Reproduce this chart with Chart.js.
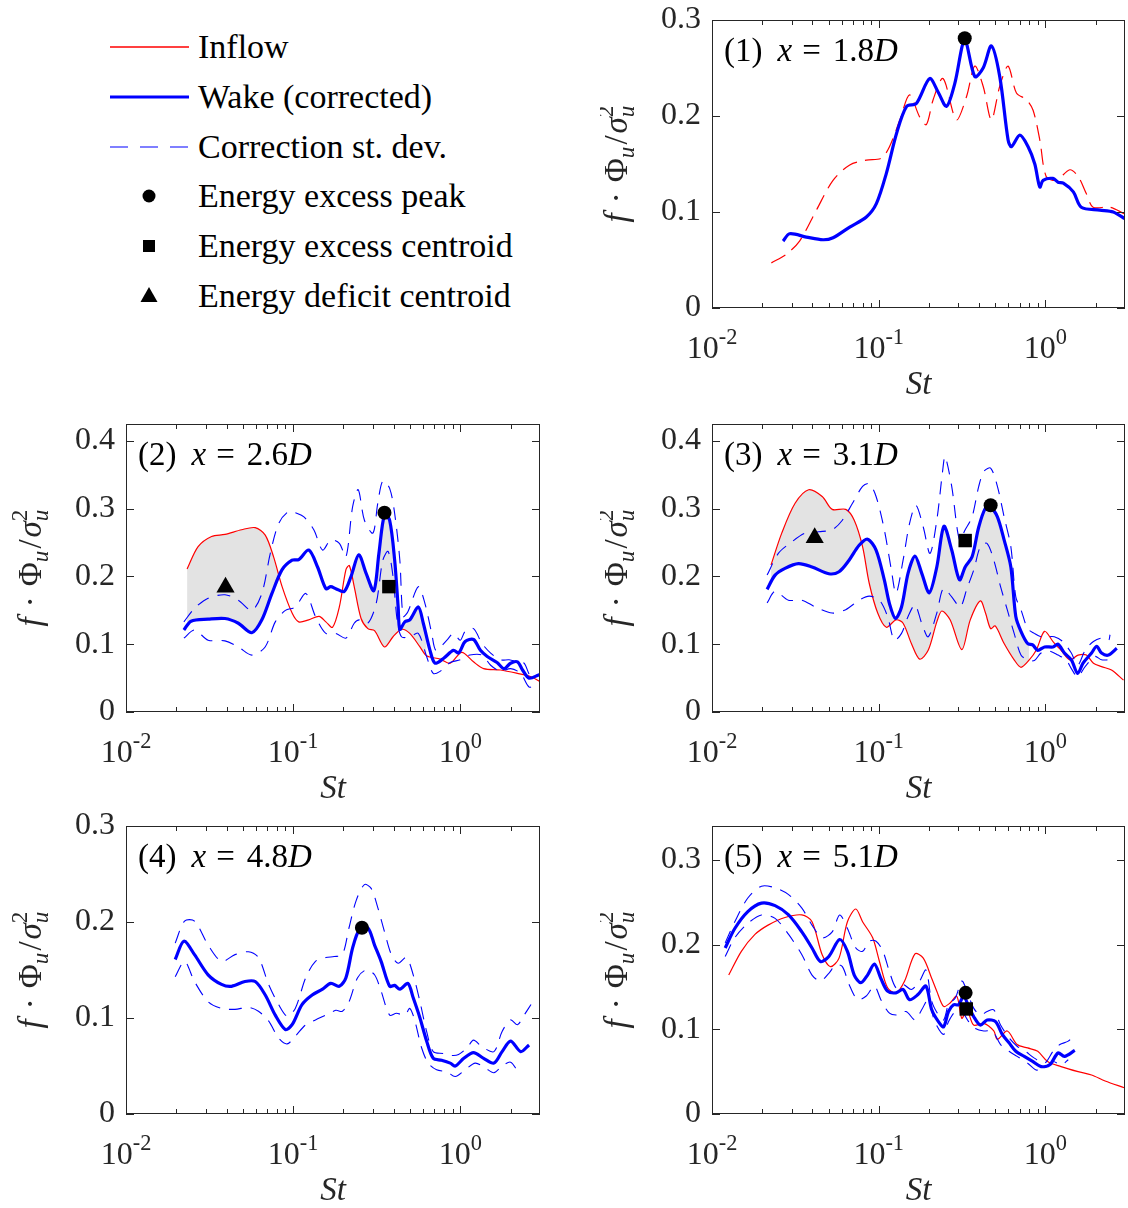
<!DOCTYPE html>
<html lang="en">
<head>
<meta charset="UTF-8">
<title>Wake spectra</title>
<script src="https://cdn.jsdelivr.net/npm/chart.js"></script>
<style>
  body { margin: 0; background: #fff; }
  #fig { position: relative; width: 1128px; height: 1208px; overflow: hidden; }
  #fig canvas { position: absolute; }
  .leg { position: absolute; left: 198px; font: 34px/34px 'Liberation Serif', serif; color: #000; white-space: nowrap; }
</style>
</head>
<body>
<div id="fig">
  <svg width="200" height="320" style="position:absolute;left:0;top:0">
    <line x1="110" y1="47" x2="189" y2="47" stroke="#ff0000" stroke-width="1.3"/>
    <line x1="110" y1="97" x2="189" y2="97" stroke="#0000ff" stroke-width="3.2"/>
    <line x1="110" y1="147" x2="189" y2="147" stroke="#0000ff" stroke-width="1.2" stroke-dasharray="18 12"/>
    <circle cx="149" cy="196" r="6.5" fill="#000"/>
    <rect x="143" y="240" width="12" height="12" fill="#000"/>
    <polygon points="149,287 157.5,302 140.5,302" fill="#000"/>
  </svg>
  <div class="leg" style="top:30px">Inflow</div>
  <div class="leg" style="top:80px">Wake (corrected)</div>
  <div class="leg" style="top:130px">Correction st. dev.</div>
  <div class="leg" style="top:179px">Energy excess peak</div>
  <div class="leg" style="top:229px">Energy excess centroid</div>
  <div class="leg" style="top:279px">Energy deficit centroid</div>

  <canvas id="c1" width="528" height="400" style="left:600px;top:0px"></canvas>
  <canvas id="c2" width="560" height="400" style="left:0px;top:404px"></canvas>
  <canvas id="c3" width="528" height="400" style="left:600px;top:404px"></canvas>
  <canvas id="c4" width="560" height="400" style="left:0px;top:806px"></canvas>
  <canvas id="c5" width="528" height="400" style="left:600px;top:806px"></canvas>
</div>

<script>
// tick values
const stTicks = [0.01, 0.1, 1];
const yTicks3 = [0, 0.1, 0.2, 0.3];
const yTicks4 = [0, 0.1, 0.2, 0.3, 0.4];

// (1) x = 1.8D
const p1Inflow = [[0.0227,0.047],[0.0279,0.056],[0.0336,0.070],[0.0423,0.102],[0.0532,0.133],[0.067,0.149],[0.0843,0.154],[0.1037,0.156],[0.116,0.168],[0.134,0.196],[0.153,0.222],[0.176,0.199],[0.193,0.191],[0.212,0.217],[0.243,0.239],[0.292,0.196],[0.336,0.220],[0.377,0.252],[0.423,0.231],[0.474,0.196],[0.532,0.231],[0.597,0.252],[0.670,0.224],[0.769,0.217],[0.843,0.206],[0.925,0.175],[1.01,0.137],[1.16,0.133],[1.40,0.144],[1.57,0.137],[1.76,0.119],[1.93,0.105],[2.43,0.105],[2.99,0.098]];
const p1Wake = [[0.0267,0.0697],[0.0292,0.0773],[0.0368,0.0739],[0.0463,0.0711],[0.0532,0.0732],[0.067,0.0843],[0.0843,0.0948],[0.0968,0.1087],[0.111,0.140],[0.128,0.182],[0.147,0.210],[0.168,0.213],[0.202,0.239],[0.227,0.225],[0.255,0.210],[0.286,0.234],[0.328,0.279],[0.377,0.241],[0.423,0.250],[0.474,0.273],[0.532,0.241],[0.597,0.175],[0.625,0.168],[0.702,0.180],[0.787,0.168],[0.863,0.150],[0.925,0.126],[0.968,0.133],[1.11,0.135],[1.19,0.131],[1.28,0.130],[1.47,0.121],[1.64,0.105],[2.12,0.102],[2.55,0.100],[2.99,0.093]];
const p1Peak = [[0.328,0.281]];

// (2) x = 2.6D
const p2Inflow = [[0.0232,0.211],[0.027,0.244],[0.0325,0.259],[0.0391,0.262],[0.0492,0.269],[0.0593,0.272],[0.0681,0.261],[0.0764,0.229],[0.0859,0.185],[0.0986,0.146],[0.108,0.133],[0.124,0.136],[0.143,0.141],[0.157,0.133],[0.172,0.125],[0.189,0.155],[0.207,0.210],[0.217,0.216],[0.232,0.185],[0.255,0.138],[0.280,0.123],[0.307,0.120],[0.352,0.096],[0.396,0.111],[0.445,0.122],[0.499,0.116],[0.574,0.096],[0.629,0.083],[0.757,0.078],[0.871,0.072],[1.02,0.088],[1.20,0.074],[1.38,0.064],[1.74,0.062],[2.20,0.057],[2.65,0.052],[3.0,0.045]];
const p2Wake = [[0.0222,0.121],[0.0245,0.134],[0.031,0.137],[0.0391,0.138],[0.047,0.131],[0.0566,0.117],[0.065,0.136],[0.0747,0.175],[0.0859,0.210],[0.0986,0.224],[0.108,0.225],[0.124,0.239],[0.140,0.214],[0.157,0.182],[0.168,0.185],[0.180,0.182],[0.202,0.178],[0.222,0.200],[0.247,0.232],[0.273,0.205],[0.304,0.179],[0.326,0.234],[0.352,0.291],[0.378,0.283],[0.405,0.224],[0.425,0.155],[0.435,0.122],[0.466,0.133],[0.499,0.136],[0.561,0.155],[0.601,0.131],[0.659,0.091],[0.706,0.072],[0.793,0.079],[0.911,0.091],[0.977,0.087],[1.07,0.104],[1.20,0.107],[1.32,0.091],[1.45,0.082],[1.66,0.073],[1.83,0.064],[2.00,0.072],[2.20,0.074],[2.36,0.062],[2.58,0.050],[2.97,0.055]];
const p2Upper = [[0.0222,0.133],[0.0257,0.153],[0.031,0.168],[0.0391,0.173],[0.047,0.165],[0.0566,0.150],[0.065,0.175],[0.073,0.234],[0.0819,0.278],[0.0942,0.296],[0.106,0.293],[0.116,0.288],[0.133,0.269],[0.150,0.239],[0.168,0.254],[0.189,0.249],[0.207,0.229],[0.227,0.303],[0.245,0.328],[0.267,0.283],[0.300,0.264],[0.321,0.308],[0.344,0.341],[0.378,0.330],[0.405,0.293],[0.435,0.224],[0.455,0.141],[0.486,0.148],[0.561,0.185],[0.615,0.160],[0.675,0.116],[0.716,0.091],[0.832,0.106],[0.911,0.116],[1.0,0.106],[1.07,0.119],[1.20,0.123],[1.35,0.101],[1.52,0.087],[1.74,0.077],[1.96,0.077],[2.20,0.074],[2.41,0.072],[2.65,0.052],[2.97,0.056]];
const p2Lower = [[0.0222,0.109],[0.0257,0.121],[0.031,0.106],[0.0391,0.105],[0.047,0.096],[0.0566,0.084],[0.068,0.096],[0.0782,0.133],[0.0899,0.150],[0.103,0.155],[0.119,0.175],[0.136,0.141],[0.157,0.116],[0.180,0.116],[0.207,0.109],[0.232,0.131],[0.249,0.136],[0.280,0.131],[0.314,0.160],[0.344,0.224],[0.370,0.237],[0.396,0.200],[0.419,0.136],[0.445,0.111],[0.499,0.111],[0.561,0.116],[0.629,0.082],[0.689,0.057],[0.757,0.060],[0.871,0.073],[1.0,0.077],[1.14,0.084],[1.35,0.084],[1.52,0.069],[1.74,0.060],[2.00,0.064],[2.30,0.057],[2.58,0.037],[2.89,0.040]];
const p2Peak = [[0.352,0.294]];
const p2Centroid = [[0.374,0.185]];
const p2Deficit = [[0.0394,0.184]];
const p2Bands = [[0.0232, 0.095, 'above'], [0.2, 0.75, 'below']];

// (3) x = 3.1D
const p3Inflow = [[0.0226,0.217],[0.0262,0.264],[0.0315,0.308],[0.038,0.328],[0.0458,0.318],[0.0526,0.299],[0.0634,0.299],[0.0713,0.283],[0.080,0.244],[0.0877,0.190],[0.0986,0.146],[0.111,0.125],[0.127,0.136],[0.140,0.131],[0.157,0.101],[0.176,0.078],[0.198,0.091],[0.223,0.133],[0.239,0.149],[0.268,0.136],[0.315,0.092],[0.354,0.136],[0.407,0.164],[0.437,0.146],[0.469,0.123],[0.500,0.127],[0.565,0.101],[0.649,0.077],[0.713,0.066],[0.80,0.077],[0.88,0.091],[0.987,0.119],[1.11,0.104],[1.24,0.091],[1.40,0.077],[1.57,0.084],[1.76,0.084],[1.94,0.072],[2.17,0.067],[2.49,0.062],[2.94,0.047]];
const p3Wake = [[0.0214,0.181],[0.0239,0.202],[0.0274,0.212],[0.033,0.219],[0.0398,0.214],[0.0502,0.204],[0.0578,0.207],[0.0664,0.224],[0.0763,0.246],[0.0857,0.255],[0.0964,0.239],[0.108,0.195],[0.116,0.160],[0.126,0.138],[0.137,0.155],[0.150,0.205],[0.165,0.230],[0.181,0.205],[0.201,0.176],[0.223,0.214],[0.246,0.274],[0.274,0.239],[0.305,0.195],[0.330,0.214],[0.363,0.229],[0.398,0.273],[0.437,0.301],[0.469,0.302],[0.515,0.288],[0.565,0.254],[0.620,0.214],[0.664,0.141],[0.713,0.119],[0.782,0.101],[0.838,0.099],[0.899,0.091],[0.987,0.096],[1.11,0.096],[1.19,0.100],[1.30,0.087],[1.43,0.077],[1.56,0.057],[1.68,0.072],[1.89,0.087],[2.03,0.097],[2.17,0.087],[2.39,0.084],[2.68,0.094]];
const p3Upper = [[0.0214,0.202],[0.025,0.234],[0.0301,0.251],[0.0363,0.264],[0.0437,0.266],[0.0526,0.269],[0.0605,0.283],[0.0696,0.308],[0.080,0.333],[0.0877,0.337],[0.0964,0.318],[0.108,0.269],[0.119,0.210],[0.127,0.175],[0.140,0.224],[0.153,0.278],[0.167,0.305],[0.185,0.273],[0.203,0.234],[0.223,0.283],[0.242,0.357],[0.250,0.377],[0.274,0.333],[0.305,0.254],[0.330,0.269],[0.363,0.288],[0.398,0.333],[0.427,0.355],[0.469,0.360],[0.515,0.333],[0.565,0.288],[0.620,0.244],[0.664,0.170],[0.713,0.151],[0.782,0.123],[0.858,0.116],[0.94,0.111],[1.03,0.111],[1.13,0.111],[1.27,0.104],[1.43,0.087],[1.56,0.069],[1.73,0.091],[1.94,0.104],[2.17,0.109],[2.39,0.106],[2.44,0.114]];
const p3Lower = [[0.0214,0.161],[0.0239,0.178],[0.0287,0.165],[0.0346,0.165],[0.0417,0.155],[0.0526,0.146],[0.0634,0.151],[0.0763,0.165],[0.0877,0.171],[0.101,0.165],[0.113,0.141],[0.124,0.106],[0.137,0.116],[0.150,0.141],[0.165,0.158],[0.181,0.131],[0.198,0.111],[0.223,0.146],[0.244,0.182],[0.274,0.170],[0.308,0.155],[0.338,0.182],[0.372,0.210],[0.407,0.244],[0.446,0.249],[0.490,0.224],[0.538,0.185],[0.590,0.151],[0.649,0.116],[0.713,0.084],[0.782,0.077],[0.858,0.076],[0.94,0.087],[1.05,0.090],[1.19,0.084],[1.33,0.077],[1.43,0.064],[1.56,0.052],[1.73,0.067],[1.98,0.082],[2.17,0.077],[2.39,0.077]];
const p3Peak = [[0.469,0.305]];
const p3Centroid = [[0.330,0.253]];
const p3Deficit = [[0.0413,0.257]];
const p3Bands = [[0.0226, 0.80, 'both']];

// (4) x = 4.8D
const p4Wake = [[0.0197,0.161],[0.0222,0.180],[0.0257,0.166],[0.031,0.145],[0.0373,0.135],[0.0428,0.133],[0.0515,0.138],[0.0593,0.138],[0.0681,0.124],[0.0782,0.103],[0.0899,0.088],[0.0986,0.093],[0.113,0.114],[0.130,0.124],[0.150,0.130],[0.168,0.136],[0.189,0.133],[0.207,0.142],[0.227,0.173],[0.249,0.192],[0.280,0.194],[0.307,0.176],[0.336,0.159],[0.378,0.133],[0.405,0.134],[0.435,0.130],[0.486,0.136],[0.523,0.121],[0.574,0.100],[0.629,0.076],[0.689,0.058],[0.773,0.056],[0.871,0.053],[0.933,0.050],[1.05,0.058],[1.20,0.064],[1.38,0.058],[1.59,0.053],[1.78,0.065],[2.00,0.076],[2.30,0.065],[2.58,0.072]];
const p4Upper = [[0.0197,0.178],[0.0224,0.201],[0.0257,0.201],[0.031,0.176],[0.0373,0.159],[0.0449,0.166],[0.054,0.169],[0.062,0.163],[0.0713,0.135],[0.0819,0.114],[0.092,0.102],[0.103,0.110],[0.119,0.142],[0.136,0.159],[0.157,0.163],[0.176,0.164],[0.197,0.166],[0.216,0.194],[0.238,0.222],[0.267,0.239],[0.293,0.235],[0.321,0.215],[0.352,0.190],[0.387,0.166],[0.425,0.157],[0.476,0.163],[0.523,0.145],[0.574,0.117],[0.629,0.086],[0.689,0.065],[0.793,0.063],[0.892,0.061],[0.977,0.062],[1.10,0.069],[1.20,0.077],[1.35,0.070],[1.59,0.065],[1.78,0.086],[2.00,0.098],[2.20,0.093],[2.41,0.103],[2.65,0.114]];
const p4Lower = [[0.0197,0.143],[0.0224,0.159],[0.0257,0.138],[0.031,0.117],[0.0373,0.110],[0.0449,0.109],[0.054,0.111],[0.062,0.107],[0.0713,0.097],[0.0819,0.079],[0.092,0.073],[0.103,0.081],[0.119,0.093],[0.136,0.098],[0.157,0.103],[0.180,0.108],[0.197,0.107],[0.216,0.117],[0.243,0.142],[0.273,0.150],[0.307,0.145],[0.336,0.128],[0.378,0.103],[0.415,0.105],[0.466,0.103],[0.499,0.110],[0.535,0.097],[0.587,0.069],[0.643,0.053],[0.722,0.046],[0.832,0.044],[0.933,0.039],[1.07,0.046],[1.23,0.053],[1.41,0.048],[1.59,0.043],[1.78,0.050],[2.00,0.054],[2.20,0.045]];
const p4Peak = [[0.258,0.194]];

// (5) x = 5.1D
const p5Inflow = [[0.0126,0.164],[0.015,0.192],[0.0181,0.212],[0.0217,0.223],[0.0274,0.232],[0.0346,0.235],[0.0398,0.227],[0.0458,0.188],[0.0514,0.174],[0.0578,0.184],[0.0649,0.227],[0.0729,0.242],[0.080,0.227],[0.092,0.208],[0.101,0.180],[0.113,0.149],[0.127,0.143],[0.143,0.157],[0.165,0.189],[0.185,0.184],[0.208,0.160],[0.223,0.145],[0.245,0.127],[0.268,0.131],[0.294,0.139],[0.315,0.113],[0.338,0.123],[0.371,0.105],[0.427,0.107],[0.490,0.098],[0.515,0.088],[0.590,0.098],[0.676,0.082],[0.782,0.078],[0.899,0.074],[1.03,0.062],[1.24,0.056],[1.57,0.050],[1.89,0.046],[2.28,0.039],[2.97,0.031]];
const p5Wake = [[0.012,0.196],[0.0137,0.219],[0.0164,0.239],[0.0198,0.249],[0.0239,0.246],[0.0288,0.235],[0.0346,0.215],[0.0398,0.196],[0.0447,0.180],[0.0502,0.186],[0.0583,0.206],[0.0649,0.192],[0.0713,0.164],[0.0782,0.155],[0.0857,0.164],[0.0942,0.177],[0.103,0.160],[0.113,0.145],[0.127,0.143],[0.140,0.147],[0.153,0.135],[0.172,0.141],[0.192,0.151],[0.208,0.123],[0.228,0.109],[0.245,0.103],[0.262,0.121],[0.281,0.129],[0.301,0.129],[0.323,0.139],[0.346,0.127],[0.371,0.115],[0.407,0.105],[0.447,0.111],[0.502,0.109],[0.551,0.094],[0.605,0.084],[0.664,0.074],[0.746,0.068],[0.838,0.062],[0.942,0.056],[1.06,0.058],[1.19,0.072],[1.30,0.068],[1.50,0.075]];
const p5Upper = [[0.012,0.202],[0.0137,0.227],[0.0164,0.255],[0.0198,0.269],[0.0239,0.267],[0.0288,0.259],[0.0346,0.243],[0.0398,0.223],[0.0458,0.208],[0.0526,0.215],[0.0583,0.235],[0.0649,0.219],[0.0729,0.196],[0.080,0.192],[0.0877,0.204],[0.0964,0.204],[0.106,0.192],[0.116,0.168],[0.127,0.149],[0.140,0.153],[0.157,0.147],[0.176,0.157],[0.192,0.170],[0.208,0.133],[0.228,0.117],[0.245,0.111],[0.262,0.129],[0.288,0.137],[0.315,0.157],[0.338,0.145],[0.371,0.125],[0.407,0.117],[0.447,0.121],[0.490,0.123],[0.538,0.105],[0.605,0.090],[0.676,0.080],[0.758,0.074],[0.858,0.066],[0.987,0.060],[1.11,0.074],[1.22,0.082],[1.37,0.086],[1.50,0.094]];
const p5Lower = [[0.012,0.186],[0.0137,0.208],[0.0164,0.225],[0.0198,0.235],[0.0239,0.231],[0.0288,0.212],[0.0346,0.188],[0.0398,0.164],[0.0447,0.157],[0.0502,0.166],[0.0552,0.176],[0.0605,0.174],[0.0664,0.153],[0.0746,0.135],[0.0838,0.139],[0.0942,0.151],[0.103,0.135],[0.116,0.119],[0.130,0.117],[0.146,0.121],[0.165,0.111],[0.181,0.123],[0.198,0.135],[0.217,0.109],[0.245,0.094],[0.262,0.109],[0.288,0.121],[0.315,0.121],[0.346,0.109],[0.380,0.101],[0.427,0.098],[0.479,0.098],[0.538,0.082],[0.605,0.074],[0.676,0.068],[0.782,0.060],[0.879,0.052],[0.987,0.054],[1.11,0.062],[1.24,0.058],[1.37,0.064]];
const p5Peak = [[0.332,0.143]];
const p5Centroid = [[0.335,0.124]];

const FONT = "'Liberation Serif', 'DejaVu Serif', serif";
const INK = '#262626';
const RED = '#ff0000';
const BLUE = '#0000ff';
const GRAY = 'rgba(222,222,222,0.85)';
const NONE = 'rgba(0,0,0,0)';

// draws a run of text pieces: {t, it, small, dy, gap, stay}
function drawRich(ctx, parts, x, y, size, center) {
  const items = parts.map(p => {
    const sz = p.small ? size * 0.7 : size;
    const font = (p.it ? 'italic ' : '') + sz + 'px ' + FONT;
    ctx.font = font;
    const w = p.gap != null ? p.gap : ctx.measureText(p.t).width;
    return Object.assign({}, p, { font, w });
  });
  const total = items.reduce((s, p) => s + (p.stay ? 0 : p.w), 0);
  let cx = center ? x - total / 2 : x;
  ctx.textAlign = 'left';
  ctx.textBaseline = 'alphabetic';
  items.forEach(p => {
    if (p.t) { ctx.font = p.font; ctx.fillText(p.t, cx, y + (p.dy || 0) * size); }
    if (!p.stay) cx += p.w;
  });
}

const yTitle = [
  { t: 'f', it: true }, { gap: 10 }, { t: '·' }, { gap: 10 }, { t: 'Φ' },
  { t: 'u', it: true, small: true, dy: 0.22 }, { gap: 2 }, { t: '/' }, { gap: 2 }, { t: 'σ', it: true },
  { t: '2', small: true, dy: -0.42, stay: true }, { t: 'u', it: true, small: true, dy: 0.22 }
];

const decor = {
  id: 'decor',
  afterDraw(chart, args, opts) {
    const { ctx, chartArea: a, scales: { x, y } } = chart;
    ctx.save();
    ctx.strokeStyle = INK;
    ctx.lineWidth = 1;
    ctx.strokeRect(a.left + 0.5, a.top + 0.5, a.width - 1, a.height - 1);
    ctx.beginPath();
    for (let d = -2; d <= 0; d++) {
      for (let k = 1; k < 10; k++) {
        const v = k * Math.pow(10, d);
        if (v <= x.min * 1.0001 || v >= x.max * 0.9999) continue;
        const px = Math.round(x.getPixelForValue(v)) + 0.5;
        const len = k === 1 ? 8 : 5;
        ctx.moveTo(px, a.bottom); ctx.lineTo(px, a.bottom - len);
        ctx.moveTo(px, a.top); ctx.lineTo(px, a.top + len);
      }
    }
    y.ticks.forEach(t => {
      const py = Math.round(y.getPixelForValue(t.value)) + 0.5;
      ctx.moveTo(a.left, py); ctx.lineTo(a.left + 8, py);
      ctx.moveTo(a.right, py); ctx.lineTo(a.right - 8, py);
    });
    ctx.stroke();

    ctx.fillStyle = INK;
    stTicks.forEach(v => {
      const e = Math.round(Math.log10(v));
      drawRich(ctx, [{ t: '10' }, { t: String(e), small: true, dy: -0.45 }],
        x.getPixelForValue(v), a.bottom + 50, 32, true);
    });
    drawRich(ctx, [{ t: 'St', it: true }], (a.left + a.right) / 2, a.bottom + 86, 33, true);

    ctx.save();
    ctx.translate(a.left - 85, (a.top + a.bottom) / 2);
    ctx.rotate(-Math.PI / 2);
    drawRich(ctx, yTitle, 0, 0, 33, true);
    ctx.restore();

    ctx.fillStyle = '#000';
    drawRich(ctx, [{ t: '(' + opts.n + ')' }, { gap: 15 }, { t: 'x', it: true }, { gap: 10 },
      { t: '=' }, { gap: 12 }, { t: opts.pos }, { t: 'D', it: true }], a.left + 12, a.top + 41, 33, false);
    ctx.restore();
  }
};

const panels = [
  { id: 'c1', n: 1, pos: '1.8', w: 528, areaL: 112, areaW: 413, yMax: 0.3, yTicks: yTicks3,
    inflow: p1Inflow, inflowDash: true, wake: p1Wake, peak: p1Peak },
  { id: 'c2', n: 2, pos: '2.6', w: 560, areaL: 126, areaW: 414, yMax: 0.425, yTicks: yTicks4,
    inflow: p2Inflow, wake: p2Wake, upper: p2Upper, lower: p2Lower, bands: p2Bands,
    peak: p2Peak, centroid: p2Centroid, deficit: p2Deficit },
  { id: 'c3', n: 3, pos: '3.1', w: 528, areaL: 112, areaW: 413, yMax: 0.425, yTicks: yTicks4,
    inflow: p3Inflow, wake: p3Wake, upper: p3Upper, lower: p3Lower, bands: p3Bands,
    peak: p3Peak, centroid: p3Centroid, deficit: p3Deficit },
  { id: 'c4', n: 4, pos: '4.8', w: 560, areaL: 126, areaW: 414, yMax: 0.3, yTicks: yTicks3,
    wake: p4Wake, upper: p4Upper, lower: p4Lower, peak: p4Peak },
  { id: 'c5', n: 5, pos: '5.1', w: 528, areaL: 112, areaW: 413, yMax: 0.34, yTicks: yTicks3,
    inflow: p5Inflow, wake: p5Wake, upper: p5Upper, lower: p5Lower, peak: p5Peak, centroid: p5Centroid }
];

const toXY = pts => pts.map(([x, y]) => ({ x, y }));

function line(pts, color, width, dash, order) {
  return { data: toXY(pts), showLine: true, borderColor: color, borderWidth: width, borderDash: dash || [],
    pointRadius: 0, pointHoverRadius: 0, tension: 0.3, fill: false, order };
}

function marker(pts, style, r) {
  return { data: toXY(pts), showLine: false, pointStyle: style, pointRadius: r, pointHoverRadius: r,
    backgroundColor: '#000', borderColor: '#000', borderWidth: 0, order: 0 };
}

// keep the plot box exactly where it is asked to be
function noPad(s) { s.paddingTop = 0; s.paddingBottom = 0; s.paddingLeft = 0; s.paddingRight = 0; }

panels.forEach(p => {
  const datasets = [line(p.wake, BLUE, 3.2, null, 1)];   // index 0 = wake
  if (p.inflow) datasets.push(line(p.inflow, RED, 1.2, p.inflowDash ? [16, 8] : null, 3));
  if (p.upper) {
    datasets.push(line(p.upper, BLUE, 1.1, [13, 9], 2));
    datasets.push(line(p.lower, BLUE, 1.1, [13, 9], 2));
  }
  (p.bands || []).forEach(([from, to, side]) => {
    const pts = p.inflow.filter(([x]) => x >= from && x <= to);
    const band = line(pts, NONE, 0, null, 5);
    band.fill = { target: 0,
      above: side !== 'below' ? GRAY : NONE,
      below: side !== 'above' ? GRAY : NONE };
    datasets.push(band);
  });
  if (p.peak) datasets.push(marker(p.peak, 'circle', 7));
  if (p.centroid) datasets.push(marker(p.centroid, 'rect', 9.5));
  if (p.deficit) datasets.push(marker(p.deficit, 'triangle', 10.5));

  new Chart(document.getElementById(p.id), {
    type: 'scatter',
    data: { datasets },
    plugins: [decor],
    options: {
      responsive: false,
      animation: false,
      devicePixelRatio: 1,
      events: [],
      layout: { autoPadding: false, padding: { left: 0, top: 20, right: p.w - p.areaL - p.areaW, bottom: 0 } },
      plugins: {
        legend: { display: false },
        tooltip: { enabled: false },
        decor: { n: p.n, pos: p.pos }
      },
      scales: {
        x: {
          type: 'logarithmic', min: 0.01, max: 3,
          grid: { display: false }, border: { display: false }, ticks: { display: false },
          afterBuildTicks: s => { s.ticks = stTicks.map(v => ({ value: v })); },
          afterFit: s => { s.height = 92; noPad(s); }
        },
        y: {
          type: 'linear', min: 0, max: p.yMax,
          grid: { display: false, drawTicks: false }, border: { display: false },
          ticks: { font: { family: FONT, size: 32 }, color: INK, padding: 11,
            callback: v => v === 0 ? '0' : v.toFixed(1) },
          afterBuildTicks: s => { s.ticks = p.yTicks.map(v => ({ value: v })); },
          afterFit: s => { s.width = p.areaL; noPad(s); }
        }
      }
    }
  });
});
</script>
</body>
</html>
